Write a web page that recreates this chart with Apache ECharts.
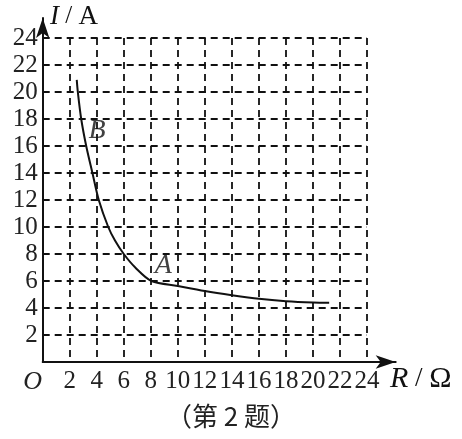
<!DOCTYPE html>
<html>
<head>
<meta charset="utf-8">
<script src="https://cdn.jsdelivr.net/npm/echarts@6/dist/echarts.min.js"></script>
<style>html,body{margin:0;padding:0;background:#fff;}#c{width:462px;height:439px;}</style>
</head>
<body>
<div id="c"></div>
<script>
// Data
const resistance = [2.52, 2.6, 2.85, 3.22, 3.68, 4.15, 4.85, 5.35, 6.0, 6.85, 8.05, 10, 12, 14, 16, 18, 20, 21.2];
const current    = [20.9, 20, 18, 16, 14, 12, 10, 9, 8, 7, 6, 5.63, 5.26, 4.95, 4.68, 4.5, 4.4, 4.38];
const pointNames = ['A', 'B'];
const pointR     = [8, 3.1];
const pointI     = [6, 16];
const xTicks = [0, 2, 4, 6, 8, 10, 12, 14, 16, 18, 20, 22, 24];
const yTicks = [0, 2, 4, 6, 8, 10, 12, 14, 16, 18, 20, 22, 24];

const serif = 'Liberation Serif';
const chart = echarts.init(document.getElementById('c'));
const dash = { color: '#111', width: 1.8, type: [7, 5] };

chart.setOption({
  animation: false,
  backgroundColor: '#fff',
  title: {
    text: '（第 2 题）', left: 'center', top: 398,
    textStyle: { fontFamily: 'Noto Sans CJK SC', fontSize: 26, fontWeight: 'normal', color: '#222' }
  },
  grid: [
    { left: 42.7, top: 38, width: 324.3, height: 324 },
    { left: 42.7, top: 18, width: 353, height: 344 }
  ],
  xAxis: [
    {
      gridIndex: 0, type: 'value', min: xTicks[0], max: xTicks[xTicks.length - 1], interval: 2,
      axisLine: { show: false }, axisTick: { show: false },
      splitLine: { show: true, lineStyle: dash },
      axisLabel: {
        margin: 7, color: '#222', fontFamily: serif, fontSize: 25,
        formatter: v => v === 0 ? '{o|O}' : String(v),
        rich: { o: { fontStyle: 'italic', fontFamily: serif, fontSize: 26, color: '#222', padding: [0, 20, 0, 0] } }
      }
    },
    {
      gridIndex: 1, type: 'value', min: 0, max: 1,
      axisLine: { show: true, lineStyle: { color: '#111', width: 2 }, symbol: ['none', 'arrow'], symbolSize: [10, 20] },
      axisTick: { show: false }, axisLabel: { show: false }, splitLine: { show: false }
    }
  ],
  yAxis: [
    {
      gridIndex: 0, type: 'value', min: yTicks[0], max: yTicks[yTicks.length - 1], interval: 2,
      axisLine: { show: false }, axisTick: { show: false },
      splitLine: { show: true, lineStyle: dash },
      axisLabel: {
        margin: 5, color: '#222', fontFamily: serif, fontSize: 25,
        formatter: v => v === 0 ? '' : String(v)
      }
    },
    {
      gridIndex: 1, type: 'value', min: 0, max: 1,
      axisLine: { show: true, lineStyle: { color: '#111', width: 2 }, symbol: ['none', 'arrow'], symbolSize: [10, 20] },
      axisTick: { show: false }, axisLabel: { show: false }, splitLine: { show: false }
    }
  ],
  graphic: [
    {
      type: 'text', left: 50, top: 3,
      style: {
        text: '{i|I}{s| / }{a|A}',
        rich: {
          i: { fontFamily: serif, fontStyle: 'italic', fontSize: 27, fill: '#111' },
          s: { fontFamily: serif, fontSize: 25, fill: '#111' },
          a: { fontFamily: serif, fontSize: 27, fill: '#111' }
        }
      }
    },
    {
      type: 'text', left: 390, top: 364,
      style: {
        text: '{i|R}{s| / }{a|Ω}',
        rich: {
          i: { fontFamily: serif, fontStyle: 'italic', fontSize: 30, fill: '#111' },
          s: { fontFamily: serif, fontSize: 27, fill: '#111' },
          a: { fontFamily: serif, fontSize: 30, fill: '#111' }
        }
      }
    }
  ],
  series: [
    {
      type: 'line', xAxisIndex: 0, yAxisIndex: 0,
      data: resistance.map((r, k) => [r, current[k]]),
      smooth: 0.3, showSymbol: false,
      lineStyle: { color: '#111', width: 2 }
    },
    {
      type: 'scatter', xAxisIndex: 0, yAxisIndex: 0, symbolSize: 0,
      data: pointNames.map((n, k) => ({ name: n, value: [pointR[k], pointI[k]] })),
      label: {
        show: true, formatter: p => p.name, position: [4, -1],
        align: 'left', verticalAlign: 'bottom',
        fontFamily: serif, fontStyle: 'italic', fontSize: 28, color: '#111'
      }
    }
  ]
});
</script>
</body>
</html>
